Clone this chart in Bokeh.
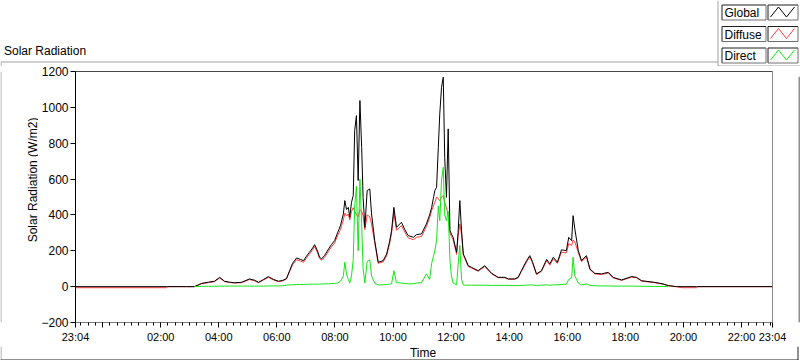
import math
import numpy as np
from bokeh.plotting import figure
from bokeh.layouts import column, row
from bokeh.models import Range1d, FixedTicker, Span
from bokeh.core.properties import value
from bokeh.embed import file_html
from bokeh.resources import INLINE

# ---------------- data (hours after midnight; 23:04 previous day = -0.933) -------------
NAN = float("nan")
HOURS = [-0.93, 2.20, 2.25, 2.89, 3.16, 3.41, 3.65, 3.85, 4.03, 4.20, 4.37, 4.54, 4.78,
         5.06, 5.23, 5.37, 5.54, 5.71, 5.89, 6.06, 6.20, 6.33, 6.44, 6.54, 6.68, 6.81,
         6.92, 7.02, 7.12, 7.23, 7.30, 7.40, 7.47, 7.54, 7.64, 7.78, 7.88, 7.99, 8.09,
         8.19, 8.29, 8.34, 8.40, 8.46, 8.51, 8.57, 8.63, 8.68, 8.74, 8.80, 8.86, 8.92,
         8.97, 9.03, 9.11, 9.20, 9.26, 9.37, 9.49, 9.66, 9.78, 9.88, 9.95, 10.03, 10.12,
         10.29, 10.40, 10.52, 10.70, 10.81, 10.98, 11.15, 11.26, 11.33, 11.44, 11.50,
         11.56, 11.61, 11.67, 11.73, 11.78, 11.84, 11.90, 11.96, 12.01, 12.07, 12.19,
         12.24, 12.30, 12.36, 12.42, 12.47, 12.59, 12.70, 12.93, 13.16, 13.39, 13.62,
         13.85, 13.97, 14.19, 14.31, 14.42, 14.60, 14.71, 14.80, 14.94, 15.11, 15.29,
         15.40, 15.52, 15.66, 15.80, 15.97, 16.05, 16.15, 16.20, 16.26, 16.38, 16.49,
         16.66, 16.78, 16.95, 17.18, 17.41, 17.58, 17.87, 18.21, 18.38, 18.56, 19.01,
         19.30, 19.48, 19.76, 19.95, 20.45, 20.50, 23.07]
GLOBAL = [0, 0, 0, 0, 0, 18, 25, 30, 52, 30, 25, 22, 24,
          43, 36, 24, 40, 56, 40, 30, 35, 45, 89, 130, 160, 152,
          145, 170, 191, 215, 234, 200, 164, 155, 173, 210, 235, 257, 300,
          340, 406, 480, 430, 442, 387, 470, 508, 870, 954, 592, 1038, 777,
          498, 331, 536, 545, 406, 257, 136, 145, 182, 250, 312, 442, 331,
          359, 320, 285, 275, 290, 294, 350, 400, 442, 536, 554,
          777, 964, 1112, 1168, 722, 498, 880, 312, 294, 275, 191,
          300, 480, 312, 182, 164, 117, 108, 89, 117, 75, 52,
          52, 43, 43, 52, 89, 145, 173, 140, 71, 89, 152,
          127, 164, 136, 205, 201, 275, 257, 396, 322, 201, 145,
          173, 99, 74, 71, 80, 52, 37, 56, 52, 33, 24,
          15, 6, 0, 0, 0, 0, 0]
DIFFUSE = [-6, -6, 0, 0, 0, 16, 23, 28, 48, 28, 23, 20, 22,
           40, 33, 22, 37, 52, 37, 28, 32, 42, 85, 122, 150, 143,
           136, 160, 181, 205, 224, 190, 157, 148, 163, 198, 222, 244, 284,
           318, 372, 410, 395, 405, 372, 420, 440, 420, 400, 390, 430, 420,
           395, 318, 400, 390, 350, 245, 130, 138, 172, 238, 298, 410, 315,
           340, 305, 272, 262, 275, 280, 335, 385, 425, 470, 500,
           490, 480, 500, 508, 470, 440, 400, 300, 280, 262, 180,
           280, 350, 290, 175, 158, 112, 104, 86, 112, 72, 50,
           50, 41, 41, 50, 85, 138, 165, 134, 68, 85, 145,
           120, 155, 130, 192, 188, 240, 230, 260, 250, 190, 140,
           165, 95, 71, 68, 76, 49, 35, 53, 50, 31, 22,
           14, 5, 0, -6, -6, 0, 0]
DIRECT = [NAN, NAN, NAN, NAN, 0, 2, 2, 2, 3, 3, 3, 3, 3,
          3, 3, 3, 3, 4, 4, 4, 5, 8, 10, 10, 12, 12,
          12, 13, 13, 14, 14, 14, 14, 15, 15, 16, 17, 18, 20,
          30, 60, 136, 70, 40, 20, 60, 150, 450, 560, 200, 600, 350,
          100, 20, 140, 150, 60, 20, 10, 10, 12, 14, 16, 89, 22,
          20, 18, 16, 16, 20, 22, 71, 40, 130, 200, 257,
          450, 368, 592, 666, 400, 368, 420, 150, 60, 20, 10,
          120, 230, 40, 10, 8, 8, 8, 8, 8, 7, 7,
          7, 6, 6, 6, 7, 8, 10, 9, 7, 8, 10,
          8, 10, 10, 12, 14, 40, 50, 164, 60, 20, 10,
          15, 7, 5, 4, 4, 3, 3, 3, 2, 2, 1,
          1, 0, NAN, NAN, NAN, NAN, NAN]

SERIES = ["Global", "Diffuse", "Direct"]
COLORS = ["#000000", "#ff3c3c", "#14e614"]

X_MIN, X_MAX = -56 / 60, 23 + 4 / 60
Y_MIN, Y_MAX = -200, 1200
X_TICKS = [X_MIN, 0, 2, 4, 6, 8, 10, 12, 14, 16, 18, 20, 22, X_MAX]
X_TICK_LABELS = ["23:04", "", "02:00", "04:00", "06:00", "08:00", "10:00", "12:00",
                 "14:00", "16:00", "18:00", "20:00", "22:00", "23:04"]
X_MINOR = [q / 4 for q in range(-3, 93)]
Y_TICKS = [-200, 0, 200, 400, 600, 800, 1000, 1200]

TITLE = "Solar Radiation"
Y_LABEL = "Solar Radiation (W/m2)"
X_LABEL = "Time"

FONT = "Liberation Sans"
GRAY = "#a0a0a0"
DARK = "#1e1e1e"


def canvas_fig(w, h):
    f = figure(width=w, height=h, x_range=Range1d(0, w), y_range=Range1d(h, 0),
               output_backend="svg", toolbar_location=None, title=None,
               x_axis_type=None, y_axis_type=None, min_border=0,
               background_fill_color="white", border_fill_color="white")
    f.outline_line_color = None
    return f


# ---------------- layout sizes (page pixels) ----------------
M_TOP, M_BOTTOM, M_LEFT, M_RIGHT = 5, 24, 36, 26
FRAME_W, FRAME_H = 697, 251
TOP_H = 71 - M_TOP
MID_H = M_TOP + FRAME_H + M_BOTTOM
LEFT_W, RIGHT_W = 38, 3
BOT_H = 360 - TOP_H - MID_H

# ---------------- top strip: title + legend ----------------
top = canvas_fig(800, TOP_H)
top.text(x=[3.5], y=[50], text=[TITLE], text_font=value(FONT),
         text_font_size=value("12px"), text_baseline="middle", text_align="left",
         text_color="black")
top.line(x=[0.5, 0.5, 717.5], y=[TOP_H, 61.5, 61.5], line_color=GRAY, line_width=1)
top.line(x=[717.5, 717.5, 800], y=[0, TOP_H - 0.5, TOP_H - 0.5], line_color=GRAY,
         line_width=1)
for i, (name, col) in enumerate(zip(SERIES, COLORS)):
    t = 4.5 + 21.5 * i
    b = t + 15
    for l, r in [(721.5, 765.5), (767.5, 797.5)]:
        top.quad(left=[l], right=[r], top=[t], bottom=[b], fill_color="white",
                 line_color=None)
        top.line(x=[l, l, r], y=[b, t, t], line_color=DARK, line_width=1)
        top.line(x=[l, r, r], y=[b, b, t], line_color="#6e6e6e", line_width=1)
    top.text(x=[724], y=[t + 8], text=[name], text_font=value(FONT),
             text_font_size=value("12px"), text_baseline="middle", text_align="left",
             text_color="black")
    top.line(x=[770, 778, 786, 794], y=[t + 12, t + 2, t + 12, t + 2], line_color=col,
             line_width=1)

# ---------------- main plot ----------------
p = figure(frame_width=FRAME_W, frame_height=FRAME_H, output_backend="svg",
           toolbar_location=None, title=None,
           x_range=Range1d(X_MIN, X_MAX), y_range=Range1d(Y_MIN, Y_MAX),
           min_border_left=M_LEFT, min_border_right=M_RIGHT, min_border_top=M_TOP,
           min_border_bottom=M_BOTTOM, background_fill_color="white",
           border_fill_color="white")
p.xgrid.visible = False
p.ygrid.visible = False
p.outline_line_color = "#8c8c8c"

xa = p.xaxis[0]
xa.ticker = FixedTicker(ticks=X_TICKS, minor_ticks=X_MINOR)
xa.major_label_overrides = dict(zip(X_TICKS, X_TICK_LABELS))
xa.axis_line_color = "#7a7a7a"
xa.major_tick_in = 0
xa.major_tick_out = 5
xa.minor_tick_in = 0
xa.minor_tick_out = 3
xa.major_tick_line_color = "black"
xa.minor_tick_line_color = "black"
xa.major_label_standoff = 3
xa.major_label_text_font = FONT
xa.major_label_text_font_size = "11px"
xa.major_label_text_color = "black"

ya = p.yaxis[0]
ya.ticker = FixedTicker(ticks=Y_TICKS, minor_ticks=[])
ya.axis_line_color = "black"
ya.major_tick_in = 0
ya.major_tick_out = 5
ya.minor_tick_out = 0
ya.minor_tick_in = 0
ya.major_tick_line_color = "black"
ya.major_label_standoff = 2
ya.major_label_text_font = FONT
ya.major_label_text_font_size = "12px"
ya.major_label_text_color = "black"

p.add_layout(Span(location=Y_MAX, dimension="width", line_color="black", line_width=1))

hours = np.array(HOURS, dtype=float)
p.line(hours, np.array(DIFFUSE, dtype=float), line_color=COLORS[1], line_width=1)
p.line(hours, np.array(GLOBAL, dtype=float), line_color=COLORS[0], line_width=1)
p.line(hours, np.array(DIRECT, dtype=float), line_color=COLORS[2], line_width=1)

# ---------------- left strip: y label + border ----------------
left = canvas_fig(LEFT_W, MID_H)
left.line(x=[0.5, 0.5], y=[0, MID_H], line_color=GRAY, line_width=1)
left.text(x=[32], y=[187 - TOP_H], text=[Y_LABEL], angle=math.pi / 2,
          text_font=value(FONT), text_font_size=value("12px"), text_align="center",
          text_baseline="middle", text_color="black")

# ---------------- right strip: border ----------------
right = canvas_fig(RIGHT_W, MID_H)
right.line(x=[0.5, 0.5], y=[72 - TOP_H, MID_H], line_color=DARK, line_width=1)

# ---------------- bottom strip: x label + border ----------------
bottom = canvas_fig(800, BOT_H)
bottom.line(x=[0.5, 0.5], y=[0, BOT_H - 0.5], line_color=GRAY, line_width=1)
bottom.line(x=[0, 798], y=[BOT_H - 0.5, BOT_H - 0.5], line_color=DARK, line_width=1)
bottom.line(x=[797.5, 797.5], y=[0, BOT_H - 0.5], line_color=DARK, line_width=1)
bottom.text(x=[422.5], y=[352.5 - TOP_H - MID_H], text=[X_LABEL], text_font=value(FONT),
            text_font_size=value("12px"), text_align="center", text_baseline="middle",
            text_color="black")

layout = column(top, row(left, p, right), bottom)

open("out.html", "w").write(file_html(layout, INLINE))
